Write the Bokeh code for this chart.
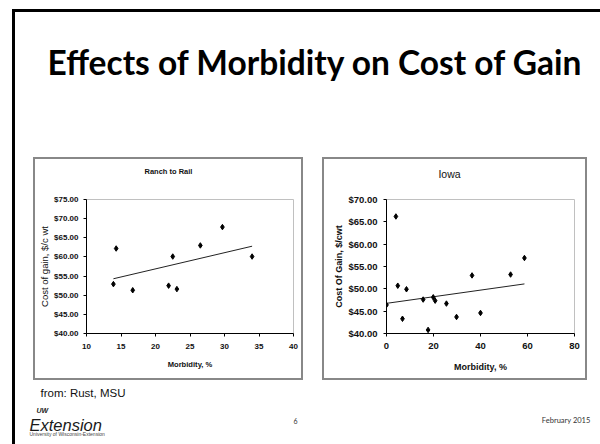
from bokeh.plotting import figure
from bokeh.layouts import row, column
from bokeh.models import Range1d, FixedTicker, NumeralTickFormatter, Spacer, LinearAxis
from bokeh.embed import file_html
from bokeh.resources import INLINE
from bokeh.core.properties import value

# ---------------- data ----------------
slide_title = "Effects of Morbidity on Cost of Gain"

rtr_title = "Ranch to Rail"
rtr_morbidity = [13.9, 14.3, 16.7, 21.9, 22.5, 23.1, 26.5, 29.7, 34.0]
rtr_cost = [52.9, 62.2, 51.3, 52.5, 60.1, 51.6, 63.0, 67.8, 60.1]
rtr_trend_x = [13.9, 34.0]
rtr_trend_y = [54.3, 62.8]
rtr_xticks = [10, 15, 20, 25, 30, 35, 40]
rtr_yticks = [40, 45, 50, 55, 60, 65, 70, 75]

iowa_title = "Iowa"
iowa_morbidity = [0.0, 4.0, 4.8, 6.8, 8.5, 15.6, 17.7, 19.9, 20.7, 25.5, 29.8, 36.4, 40.0, 52.8, 58.7]
iowa_cost = [46.4, 66.2, 50.7, 43.3, 49.9, 47.6, 40.8, 48.1, 47.35, 46.7, 43.7, 53.0, 44.6, 53.2, 56.9]
iowa_trend_x = [0.0, 58.7]
iowa_trend_y = [46.75, 51.1]
iowa_xticks = [0, 20, 40, 60, 80]
iowa_yticks = [40, 45, 50, 55, 60, 65, 70]

source_note = "from: Rust, MSU"
page_number = "6"
date_text = "February 2015"

ARIAL = "'Liberation Sans', Arial, sans-serif"
BOX = "#888888"


def canvas(w, h):
    p = figure(width=w, height=h, x_range=Range1d(0, w), y_range=Range1d(h, 0), title=None,
               output_backend="svg", toolbar_location=None,
               x_axis_location=None, y_axis_location=None, min_border=0)
    p.xgrid.visible = False
    p.ygrid.visible = False
    p.outline_line_color = None
    p.background_fill_color = None
    p.border_fill_color = None
    return p


def bar(w, h):
    return Spacer(width=w, height=h, styles={"background-color": BOX})


def chart(w, h, bl, br, bt, bb, xr, yr, xt, yt, xs, ys, tx, ty, title, xlabel, ylabel,
          tick_size, xlab_size, ylab_size, ylab_style, title_size, title_style,
          title_px, title_standoff, y_std, y_lab_std, x_std, x_lab_std):
    fw, fh = w - 4, h - 4
    p = figure(width=fw, height=fh, x_range=Range1d(*xr), y_range=Range1d(*yr), title=None,
               output_backend="svg", toolbar_location=None,
               min_border_left=bl, min_border_right=br, min_border_top=bt, min_border_bottom=bb)
    p.xgrid.visible = False
    p.ygrid.visible = False
    p.outline_line_color = "#c0c0c0"
    p.outline_line_width = 1
    p.background_fill_color = "white"
    p.border_fill_color = "white"
    p.xaxis.ticker = FixedTicker(ticks=xt)
    p.yaxis.ticker = FixedTicker(ticks=yt)
    p.yaxis.formatter = NumeralTickFormatter(format="$0.00")
    for ax in (p.xaxis[0], p.yaxis[0]):
        ax.axis_line_color = "black"
        ax.axis_line_width = 1
        ax.major_tick_line_color = "black"
        ax.major_tick_out = 3
        ax.major_tick_in = 0
        ax.minor_tick_line_color = None
        ax.major_label_text_font = ARIAL
        ax.major_label_text_font_size = tick_size
        ax.major_label_text_font_style = "bold"
        ax.major_label_text_color = "#111111"
        ax.axis_label_text_color = "#111111"
    p.yaxis.major_label_standoff = y_std
    p.xaxis.major_label_standoff = x_std
    p.xaxis.axis_label = xlabel
    p.xaxis.axis_label_text_font = ARIAL
    p.xaxis.axis_label_text_font_size = xlab_size
    p.xaxis.axis_label_text_font_style = "bold"
    p.xaxis.axis_label_standoff = x_lab_std
    p.yaxis.axis_label = ylabel
    p.yaxis.axis_label_text_font = ARIAL
    p.yaxis.axis_label_text_font_size = ylab_size
    p.yaxis.axis_label_text_font_style = ylab_style
    p.yaxis.axis_label_standoff = y_lab_std

    # chart title: a single labelled position on an axis above the plot area
    frame_w = fw - bl - br
    t_pos = xr[0] + (title_px - bl) * (xr[1] - xr[0]) / frame_w
    tax = LinearAxis(ticker=FixedTicker(ticks=[t_pos]),
                     major_label_overrides={t_pos: title},
                     axis_line_color=None, major_tick_line_color=None, minor_tick_line_color=None,
                     major_label_standoff=title_standoff,
                     major_label_text_font=ARIAL, major_label_text_font_size=title_size,
                     major_label_text_font_style=title_style, major_label_text_color="#111111")
    p.add_layout(tax, "above")

    p.line(tx, ty, line_color="#222222", line_width=1)
    p.scatter(xs, ys, marker="diamond", size=5.5, fill_color="black", line_color="black")

    # gray box around the chart
    return row(bar(2, h), column(bar(w - 4, 2), p, bar(w - 4, 2), spacing=0),
               bar(2, h), spacing=0)


W = 600
H_HDR = 157
H_ROW = 223
H_FTR = 444 - H_HDR - H_ROW

# header
hdr = canvas(W, H_HDR)
hdr.text(x=[315], y=[61], text=[slide_title], text_font=value("Lato"),
         text_font_size="33.5px", text_font_style="bold", text_align="center",
         text_baseline="alphabetic", text_color="black")

left = chart(270, H_ROW, 51, 8, 40, 45, (10, 40), (40, 75), rtr_xticks, rtr_yticks,
             rtr_morbidity, rtr_cost, rtr_trend_x, rtr_trend_y,
             rtr_title, "Morbidity, %", "Cost of gain, $/c wt",
             "8px", "7.6px", "9.5px", "normal", "7.5px", "bold",
             133, 18, 5, 1, 7, 8)

right = chart(265, H_ROW, 62, 11, 40, 45, (0, 80), (40, 70), iowa_xticks, iowa_yticks,
              iowa_morbidity, iowa_cost, iowa_trend_x, iowa_trend_y,
              iowa_title, "Morbidity, %", "Cost Of Gain, $/cwt",
              "9.5px", "9px", "9px", "bold", "10.5px", "normal",
              125, 14, 6, 1, 6, 10)

charts = row(Spacer(width=33, height=H_ROW), left, Spacer(width=19, height=H_ROW), right,
             Spacer(width=13, height=H_ROW), spacing=0)

# footer
ftr = canvas(W, H_FTR)
ftr.text(x=[40], y=[12], text=[source_note], text_font=value("Liberation Sans"),
         text_font_size="11.5px", text_align="left", text_baseline="middle", text_color="#111111")
ftr.text(x=[29], y=[44], text=["Extension"], text_font=value("Liberation Sans"),
         text_font_size="16.5px", text_font_style="italic", text_align="left",
         text_baseline="alphabetic", text_color="#1a1a1a")
ftr.text(x=[36], y=[30], text=["UW"], text_font=value("Liberation Sans"),
         text_font_size="7px", text_font_style="bold italic", text_align="left",
         text_baseline="alphabetic", text_color="#1a1a1a")
ftr.text(x=[29], y=[53], text=["University of Wisconsin-Extension"], text_font=value("Liberation Sans"),
         text_font_size="5px", text_align="left", text_baseline="middle", text_color="#444444")
ftr.text(x=[295], y=[40], text=[page_number], text_font=value("Lato"),
         text_font_size="7px", text_align="center", text_baseline="middle", text_color="#333333")
ftr.text(x=[590], y=[40], text=[date_text], text_font=value("Lato"),
         text_font_size="7.5px", text_align="right", text_baseline="middle", text_color="#333333")

layout = column(hdr, charts, ftr, spacing=0,
                styles={"background-image": "linear-gradient(#000,#000), linear-gradient(#000,#000)",
                        "background-size": "3px 436px, 590px 3px",
                        "background-position": "12px 9px, 12px 9px",
                        "background-repeat": "no-repeat"})

open("out.html", "w").write(file_html(layout, INLINE))
